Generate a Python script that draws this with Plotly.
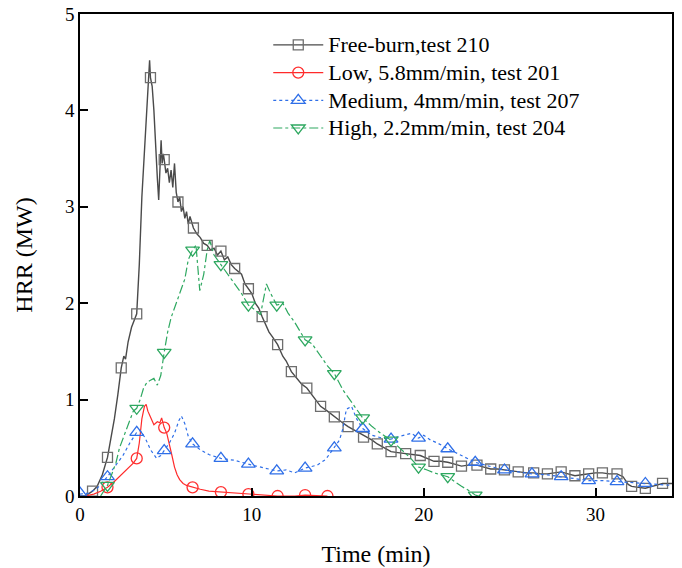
import plotly.graph_objects as go

# ---------------- data ----------------
free_x = [0, 0.3, 0.73, 1.0, 1.3, 1.6, 1.8, 2.0, 2.2, 2.4, 2.55, 2.65, 2.8, 3.0, 3.3, 3.45, 3.6, 3.75, 3.9, 4.0,
          4.05, 4.1, 4.2, 4.3, 4.4, 4.5, 4.58, 4.65, 4.72, 4.78, 4.85, 4.9, 5.0, 5.1, 5.2, 5.3, 5.4, 5.5, 5.6, 5.7,
          5.8, 5.9, 6.0, 6.1, 6.2, 6.3, 6.4, 6.6, 6.8, 7.0, 7.2, 7.4, 7.6, 7.8, 8.0, 8.2, 8.4, 8.6, 8.8, 9.0,
          9.2, 9.4, 9.6, 9.8, 10.0, 10.2, 10.4, 10.6, 10.8, 11.0, 11.2, 11.5, 11.8, 12.0, 12.3, 12.6, 12.9, 13.2,
          13.5, 13.8, 14.0, 14.4, 14.8, 15.2, 15.6, 16.0, 16.5, 17.0, 17.3, 17.7, 18.1, 18.5, 18.95, 19.4, 19.8,
          20.2, 20.6, 21.0, 21.4, 21.8, 22.2, 22.6, 23.1, 23.5, 23.9, 24.3, 24.7, 25.1, 25.5, 26.0, 26.4, 26.8,
          27.2, 27.6, 28.0, 28.4, 28.8, 29.2, 29.6, 30.0, 30.4, 30.8, 31.25, 31.6, 31.9, 32.1, 32.5, 32.9, 33.3,
          33.9, 34.45]
free_y = [0, 0.0, 0.05, 0.1, 0.22, 0.4, 0.6, 0.8, 1.05, 1.33, 1.45, 1.42, 1.6, 1.75, 1.89, 2.4, 3.1, 3.6, 4.0, 4.3,
          4.52, 4.34, 4.25, 4.0, 3.6, 3.3, 3.07, 3.5, 3.69, 3.45, 3.55, 3.49, 3.35, 3.4, 3.25, 3.38, 3.2, 3.45, 3.15, 3.05,
          3.1, 2.95, 3.0, 2.88, 2.95, 2.82, 2.9, 2.78, 2.72, 2.68, 2.62, 2.6, 2.55, 2.57, 2.5, 2.54, 2.45, 2.48, 2.4, 2.36,
          2.33, 2.3, 2.2, 2.15, 2.1, 2.0, 1.95, 1.86, 1.78, 1.7, 1.65, 1.57, 1.45, 1.4, 1.29, 1.22, 1.16, 1.12,
          1.05, 0.98, 0.93, 0.88, 0.82, 0.77, 0.72, 0.68, 0.63, 0.58, 0.54, 0.5, 0.46, 0.45, 0.44, 0.43, 0.42,
          0.39, 0.36, 0.36, 0.35, 0.33, 0.31, 0.32, 0.32, 0.3, 0.28, 0.28, 0.27, 0.26, 0.25, 0.24, 0.24, 0.23,
          0.23, 0.24, 0.25, 0.23, 0.21, 0.22, 0.23, 0.24, 0.24, 0.23, 0.23, 0.2, 0.12, 0.10, 0.09, 0.08, 0.1,
          0.13, 0.13]
free_mx = [0.73, 1.6, 2.4, 3.3, 4.1, 4.9, 5.7, 6.6, 7.4, 8.2, 9.0, 9.8, 10.6, 11.5, 12.3, 13.2, 14.0, 14.8, 15.6,
           16.5, 17.3, 18.1, 18.95, 19.8, 20.6, 21.4, 22.2, 23.1, 23.9, 24.7, 25.5, 26.4, 27.2, 28.0, 28.8, 29.6,
           30.4, 31.25, 32.1, 32.9, 33.9]
free_my = [0.05, 0.40, 1.33, 1.89, 4.34, 3.49, 3.05, 2.78, 2.60, 2.54, 2.36, 2.15, 1.86, 1.57, 1.29, 1.12, 0.93, 0.82,
           0.72, 0.61, 0.54, 0.46, 0.44, 0.42, 0.36, 0.35, 0.31, 0.32, 0.28, 0.27, 0.25, 0.24, 0.23, 0.25, 0.21, 0.23,
           0.24, 0.23, 0.10, 0.08, 0.13]

low_x = [0.3, 0.8, 1.2, 1.6, 2.0, 2.4, 2.8, 3.1, 3.3, 3.45, 3.6, 3.75, 3.85, 3.95, 4.1, 4.3, 4.5, 4.65, 4.75, 4.9,
         5.05, 5.2, 5.35, 5.5, 5.65, 5.8, 6.0, 6.2, 6.55, 7.0, 7.5, 8.2, 9.0, 9.8, 10.5, 11.5, 12.5, 13.1, 14.4]
low_y = [0.0, 0.02, 0.05, 0.09, 0.15, 0.22, 0.28, 0.34, 0.39, 0.55, 0.8, 0.93, 0.95, 0.88, 0.82, 0.74, 0.77, 0.76, 0.81,
         0.71, 0.65, 0.55, 0.42, 0.3, 0.22, 0.17, 0.13, 0.11, 0.09, 0.07, 0.05, 0.04, 0.03, 0.02, 0.01, 0.0, 0.0, 0.01, 0.0]
low_mx = [1.6, 3.3, 4.9, 6.55, 8.2, 9.8, 11.5, 13.1, 14.4]
low_my = [0.09, 0.39, 0.71, 0.09, 0.04, 0.02, 0.0, 0.01, 0.0]

med_x = [0, 0.5, 1.0, 1.6, 2.0, 2.5, 2.9, 3.3, 3.5, 3.8, 4.1, 4.46, 4.7, 4.9, 5.2, 5.5, 5.75, 5.9, 6.1, 6.3, 6.55,
         7.0, 7.5, 8.2, 9.0, 9.8, 10.5, 11.45, 12.0, 12.5, 13.1, 13.8, 14.3, 14.8, 15.1, 15.3, 15.5, 15.8, 16.1,
         16.45, 17.0, 17.6, 18.1, 18.6, 19.0, 19.3, 19.7, 20.0, 20.4, 20.8, 21.4, 22.2, 23.0, 23.8, 24.7, 25.5,
         26.3, 27.2, 28.0, 28.8, 29.6, 30.4, 31.25, 32.0, 32.9, 33.7, 34.45]
med_y = [0.02, 0.03, 0.08, 0.2, 0.3, 0.42, 0.55, 0.66, 0.68, 0.6, 0.48, 0.39, 0.42, 0.47, 0.55, 0.65, 0.78, 0.83, 0.75,
         0.62, 0.54, 0.48, 0.43, 0.39, 0.37, 0.33, 0.30, 0.26, 0.27, 0.24, 0.29, 0.32, 0.38, 0.50, 0.58, 0.7, 0.9, 0.93,
         0.8, 0.70, 0.63, 0.6, 0.59, 0.62, 0.64, 0.65, 0.60, 0.63, 0.58, 0.55, 0.49, 0.42, 0.35, 0.31, 0.27, 0.25,
         0.23, 0.22, 0.20, 0.18, 0.16, 0.16, 0.15, 0.14, 0.13, 0.12, 0.11]
med_mx = [0, 1.6, 3.3, 4.9, 6.55, 8.2, 9.8, 11.45, 13.1, 14.8, 16.45, 18.1, 19.7, 21.4, 23.0, 24.7, 26.3, 28.0,
          29.6, 31.25, 32.9]
med_my = [0.03, 0.2, 0.66, 0.47, 0.54, 0.39, 0.33, 0.26, 0.29, 0.50, 0.70, 0.59, 0.60, 0.49, 0.35, 0.27, 0.23, 0.20,
          0.16, 0.15, 0.13]

high_x = [1.2, 1.6, 1.9, 2.1, 2.3, 2.5, 2.7, 2.9, 3.1, 3.3, 3.5, 3.7, 3.9, 4.1, 4.3, 4.5, 4.7, 4.9, 5.1, 5.3, 5.5,
          5.7, 5.9, 6.1, 6.3, 6.55, 6.75, 6.97, 7.2, 7.4, 7.55, 7.8, 8.2, 8.6, 9.0, 9.4, 9.8, 10.2, 10.5, 10.7,
          10.85, 11.1, 11.45, 11.8, 12.1, 12.5, 13.1, 13.5, 14.0, 14.4, 14.8, 15.3, 15.7, 16.1, 16.45, 17.0, 17.5,
          18.1, 18.5, 18.9, 19.3, 19.7, 20.2, 20.6, 21.0, 21.4, 21.8, 22.2, 22.6, 23.0, 23.2]
high_y = [0.0, 0.11, 0.25, 0.35, 0.5, 0.6, 0.7, 0.8, 0.88, 0.91, 1.0, 1.12, 1.18, 1.2, 1.22, 1.15, 1.25, 1.49, 1.7, 1.85,
          1.95, 2.05, 2.15, 2.25, 2.45, 2.55, 2.6, 2.13, 2.3, 2.55, 2.65, 2.5, 2.4, 2.3, 2.2, 2.1, 1.98, 1.93, 1.88,
          2.05, 2.2, 2.1, 1.98, 2.0, 1.9, 1.8, 1.62, 1.58, 1.45, 1.35, 1.27, 1.1, 1.0, 0.9, 0.81, 0.72, 0.65, 0.58,
          0.52, 0.45, 0.38, 0.30, 0.27, 0.24, 0.22, 0.20, 0.15, 0.10, 0.06, 0.01, 0.0]
high_mx = [1.6, 3.3, 4.9, 6.55, 8.2, 9.8, 11.45, 13.1, 14.8, 16.45, 18.1, 19.7, 21.4, 23.0]
high_my = [0.11, 0.91, 1.49, 2.55, 2.40, 1.98, 1.98, 1.62, 1.27, 0.81, 0.58, 0.30, 0.20, 0.01]

names = ["Free-burn,test 210", "Low, 5.8mm/min, test 201",
         "Medium, 4mm/min, test 207", "High, 2.2mm/min, test 204"]
x_ticks = [0, 10, 20, 30]
y_ticks = [0, 1, 2, 3, 4, 5]

# ---------------- styles ----------------
series = [
    (free_x, free_y, free_mx, free_my, "#4a4a4a", "#6e6e6e", "solid", "square-open", 10, 1.4),
    (low_x, low_y, low_mx, low_my, "#ff2a2a", "#ff3030", "solid", "circle-open", 11, 1.2),
    (med_x, med_y, med_mx, med_my, "#2f6fe8", "#2f6fe8", "dot", "triangle-up-open", 12, 1.2),
    (high_x, high_y, high_mx, high_my, "#2ea860", "#2ea860", "dashdot", "triangle-down-open", 12, 1.2),
]

fig = go.Figure()
for name, (lx, ly, mx, my, lc, mc, dash, sym, ms, lw) in zip(names, series):
    fig.add_trace(go.Scatter(x=lx, y=ly, mode="lines", line=dict(color=lc, width=lw, dash=dash),
                             showlegend=False, hoverinfo="skip"))
    fig.add_trace(go.Scatter(x=mx, y=my, mode="markers",
                             marker=dict(symbol=sym, size=ms, color=mc, line=dict(color=mc, width=1.3)),
                             showlegend=False))
    fig.add_trace(go.Scatter(x=[None], y=[None], mode="lines+markers",
                             name="<span style='font-size:22px'>" + name + "</span>",
                             line=dict(color=lc, width=1.2, dash=dash),
                             marker=dict(symbol=sym, size=ms, color=mc, line=dict(color=mc, width=1.3))))

axis_common = dict(showline=True, linecolor="black", linewidth=1.6, mirror=True,
                   ticks="inside", ticklen=8, tickwidth=1.5, tickcolor="black",
                   showgrid=False, zeroline=False, automargin=False, ticklabeloverflow="allow",
                   tickfont=dict(family="Liberation Serif", size=19, color="black"))

fig.update_layout(
    width=682, height=568,
    margin=dict(l=80, r=10, t=14, b=72, autoexpand=False),
    paper_bgcolor="white", plot_bgcolor="white",
    font=dict(family="Liberation Serif", color="black"),
    xaxis=dict(range=[0, 34.45], tickvals=x_ticks,
               title=dict(text="Time (min)", font=dict(family="Liberation Serif", size=24), standoff=22),
               **axis_common),
    yaxis=dict(range=[0, 5], tickvals=y_ticks,
               title=dict(text="HRR (MW)", font=dict(family="Liberation Serif", size=24), standoff=26),
               **axis_common),
    legend=dict(x=0.318, y=0.975, xanchor="left", yanchor="top", bgcolor="rgba(0,0,0,0)",
                itemwidth=50,
                font=dict(family="Liberation Serif", size=19, color="black"), tracegroupgap=0),
)

# remove the default 8px page margin so the figure fills the window exactly
fig.write_html("out.html", config={"displayModeBar": False},
               post_script="document.body.style.margin='0';")
